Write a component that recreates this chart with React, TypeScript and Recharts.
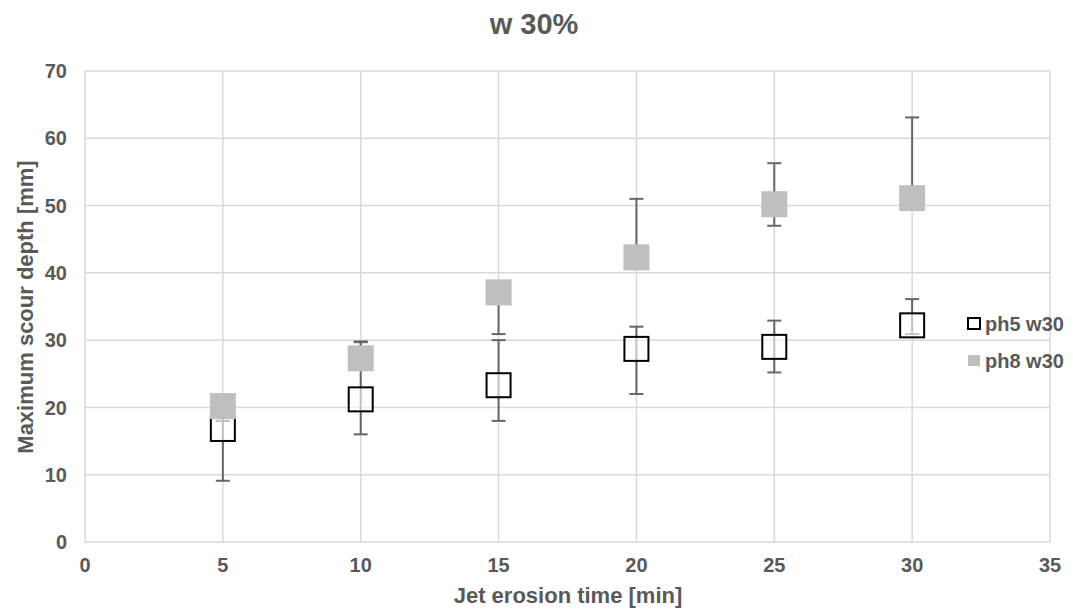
import { ScatterChart, Scatter, XAxis, YAxis, CartesianGrid, ErrorBar } from 'recharts';

const times = [5, 10, 15, 20, 25, 30];
const ph5 = [16.8, 21.2, 23.3, 28.7, 29.0, 32.2];
const ph5Low = [7.7, 5.2, 5.3, 6.7, 3.8, 1.3];
const ph5High = [1.2, 8.6, 6.7, 3.3, 3.9, 3.9];
const ph8 = [20.2, 27.3, 37.1, 42.3, 50.2, 51.1];
const ph8Low = [2.2, 1.5, 6.2, 1.5, 3.2, 1.5];
const ph8High = [1.0, 2.4, 1.0, 8.7, 6.1, 12.0];
const xTicks = [0, 5, 10, 15, 20, 25, 30, 35];
const yTicks = [0, 10, 20, 30, 40, 50, 60, 70];

const ph5Data = times.map((t, i) => ({ x: t, y: ph5[i], err: [ph5Low[i], ph5High[i]] }));
const ph8Data = times.map((t, i) => ({ x: t, y: ph8[i], err: [ph8Low[i], ph8High[i]] }));

const font = '"Liberation Sans", Arial, sans-serif';
const textColor = '#595959';

const HollowSquare = (props: any) => {
  const { cx, cy } = props;
  return <rect x={cx - 12} y={cy - 12} width={24} height={24} fill="#ffffff" fillOpacity={0.6} stroke="#000000" strokeWidth={2} />;
};

const GraySquare = (props: any) => {
  const { cx, cy } = props;
  return <rect x={cx - 13} y={cy - 13} width={26} height={26} fill="#bfbfbf" />;
};

const tickStyle = { fill: textColor, fontSize: 20, fontWeight: 700, fontFamily: font };

export default function App() {
  return (
    <div style={{ position: 'absolute', left: 0, top: 0, width: 1073, height: 616, background: '#fff' }}>
      <ScatterChart width={1073} height={616} margin={{ top: 71, right: 23, bottom: 0, left: 0 }}>
        <CartesianGrid stroke="#d9d9d9" strokeWidth={1.5} />
        <XAxis
          type="number"
          dataKey="x"
          domain={[0, 35]}
          ticks={xTicks}
          height={74}
          axisLine={false}
          tickLine={false}
          tickSize={0}
          tickMargin={16}
          tick={tickStyle}
        />
        <YAxis
          type="number"
          dataKey="y"
          domain={[0, 70]}
          ticks={yTicks}
          width={85}
          axisLine={false}
          tickLine={false}
          tickSize={0}
          tickMargin={18}
          tick={tickStyle}
        />
        <Scatter data={ph5Data} shape={HollowSquare} isAnimationActive={false}>
          <ErrorBar dataKey="err" direction="y" width={7} stroke="#666666" strokeWidth={2} />
        </Scatter>
        <Scatter data={ph8Data} shape={GraySquare} isAnimationActive={false}>
          <ErrorBar dataKey="err" direction="y" width={7} stroke="#666666" strokeWidth={2} />
        </Scatter>
      </ScatterChart>
      <svg width={1073} height={616} style={{ position: 'absolute', left: 0, top: 0, pointerEvents: 'none' }}>
        <text x={534} y={34} textAnchor="middle" fill={textColor} fontSize={29} fontWeight={700} fontFamily={font}>
          w 30%
        </text>
        <text x={568} y={603} textAnchor="middle" fill={textColor} fontSize={22} fontWeight={700} fontFamily={font}>
          Jet erosion time [min]
        </text>
        <text
          transform="translate(33, 307) rotate(-90)"
          textAnchor="middle"
          fill={textColor}
          fontSize={22}
          fontWeight={700}
          fontFamily={font}
        >
          Maximum scour depth [mm]
        </text>
        <rect x={968} y={318} width={12} height={11} fill="#ffffff" stroke="#000000" strokeWidth={2} />
        <text x={985} y={331} fill={textColor} fontSize={20} fontWeight={700} fontFamily={font}>
          ph5 w30
        </text>
        <rect x={968} y={355} width={12} height={11} fill="#bfbfbf" />
        <text x={985} y={368} fill={textColor} fontSize={20} fontWeight={700} fontFamily={font}>
          ph8 w30
        </text>
      </svg>
    </div>
  );
}
